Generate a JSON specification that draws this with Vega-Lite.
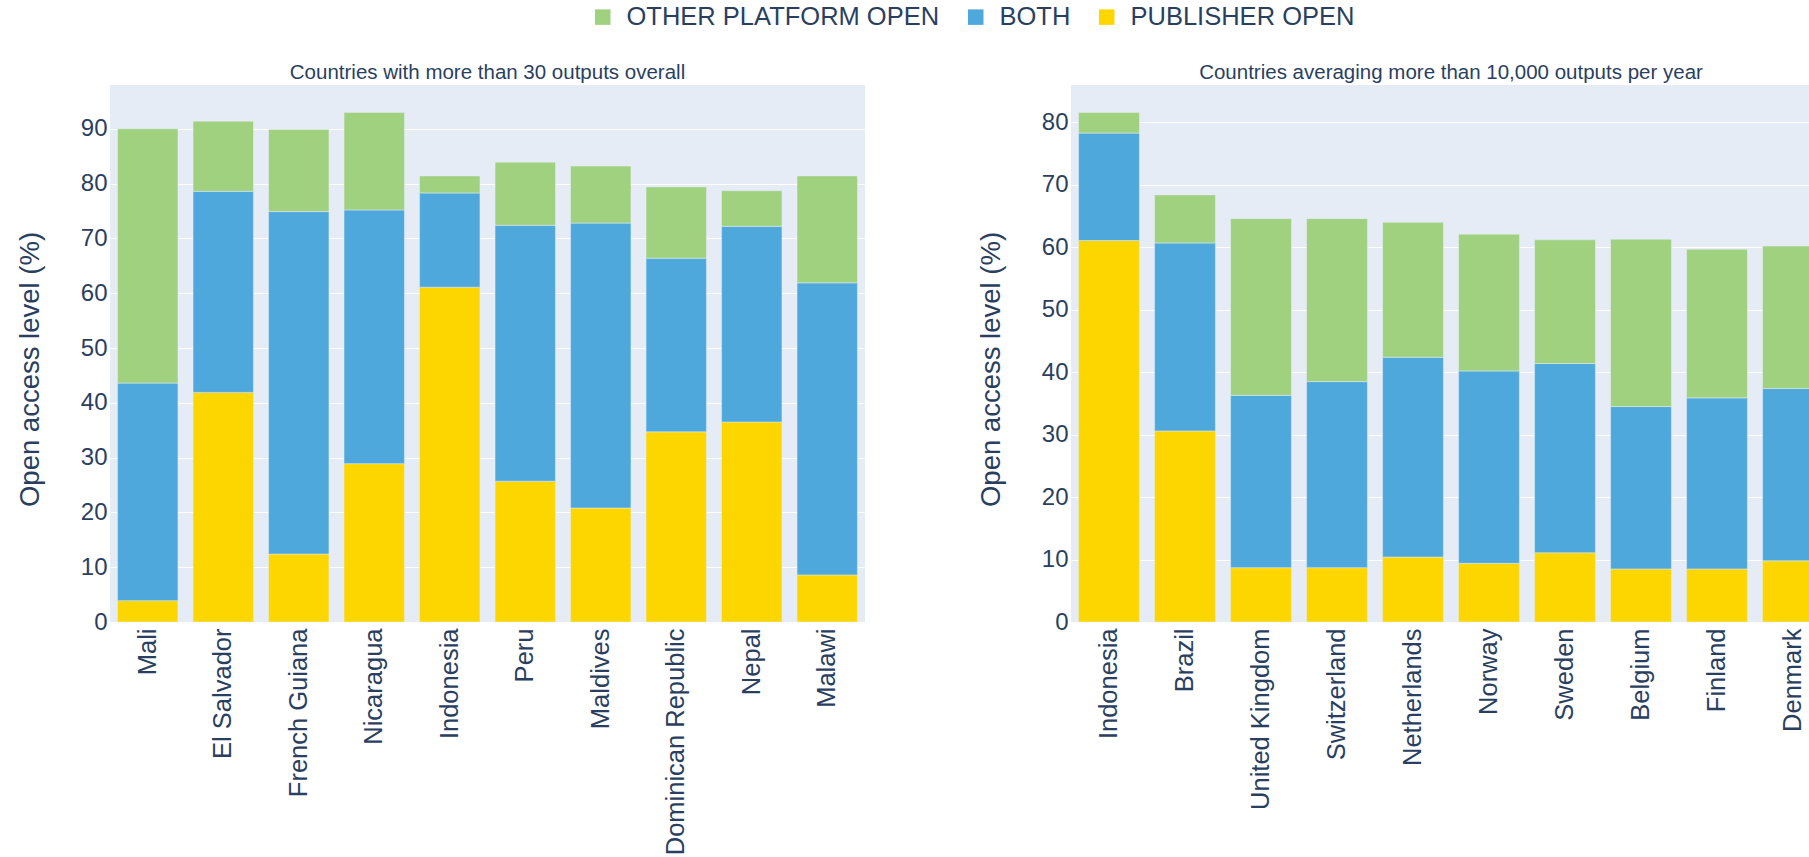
{
  "$schema": "https://vega.github.io/schema/vega-lite/v6.json",
  "background": "white",
  "padding": {"left": 16, "top": 4, "right": 0, "bottom": 0},
  "spacing": 112,
  "data": {"values": [
    {"panel": "A", "country": "Mali", "type": "PUBLISHER OPEN", "so": 1, "value": 3.9},
    {"panel": "A", "country": "Mali", "type": "BOTH", "so": 2, "value": 39.7},
    {"panel": "A", "country": "Mali", "type": "OTHER PLATFORM OPEN", "so": 3, "value": 46.4},
    {"panel": "A", "country": "El Salvador", "type": "PUBLISHER OPEN", "so": 1, "value": 41.9},
    {"panel": "A", "country": "El Salvador", "type": "BOTH", "so": 2, "value": 36.7},
    {"panel": "A", "country": "El Salvador", "type": "OTHER PLATFORM OPEN", "so": 3, "value": 12.8},
    {"panel": "A", "country": "French Guiana", "type": "PUBLISHER OPEN", "so": 1, "value": 12.4},
    {"panel": "A", "country": "French Guiana", "type": "BOTH", "so": 2, "value": 62.5},
    {"panel": "A", "country": "French Guiana", "type": "OTHER PLATFORM OPEN", "so": 3, "value": 15.0},
    {"panel": "A", "country": "Nicaragua", "type": "PUBLISHER OPEN", "so": 1, "value": 28.9},
    {"panel": "A", "country": "Nicaragua", "type": "BOTH", "so": 2, "value": 46.3},
    {"panel": "A", "country": "Nicaragua", "type": "OTHER PLATFORM OPEN", "so": 3, "value": 17.8},
    {"panel": "A", "country": "Indonesia", "type": "PUBLISHER OPEN", "so": 1, "value": 61.1},
    {"panel": "A", "country": "Indonesia", "type": "BOTH", "so": 2, "value": 17.2},
    {"panel": "A", "country": "Indonesia", "type": "OTHER PLATFORM OPEN", "so": 3, "value": 3.1},
    {"panel": "A", "country": "Peru", "type": "PUBLISHER OPEN", "so": 1, "value": 25.7},
    {"panel": "A", "country": "Peru", "type": "BOTH", "so": 2, "value": 46.7},
    {"panel": "A", "country": "Peru", "type": "OTHER PLATFORM OPEN", "so": 3, "value": 11.5},
    {"panel": "A", "country": "Maldives", "type": "PUBLISHER OPEN", "so": 1, "value": 20.8},
    {"panel": "A", "country": "Maldives", "type": "BOTH", "so": 2, "value": 52.0},
    {"panel": "A", "country": "Maldives", "type": "OTHER PLATFORM OPEN", "so": 3, "value": 10.4},
    {"panel": "A", "country": "Dominican Republic", "type": "PUBLISHER OPEN", "so": 1, "value": 34.7},
    {"panel": "A", "country": "Dominican Republic", "type": "BOTH", "so": 2, "value": 31.7},
    {"panel": "A", "country": "Dominican Republic", "type": "OTHER PLATFORM OPEN", "so": 3, "value": 13.0},
    {"panel": "A", "country": "Nepal", "type": "PUBLISHER OPEN", "so": 1, "value": 36.5},
    {"panel": "A", "country": "Nepal", "type": "BOTH", "so": 2, "value": 35.7},
    {"panel": "A", "country": "Nepal", "type": "OTHER PLATFORM OPEN", "so": 3, "value": 6.5},
    {"panel": "A", "country": "Malawi", "type": "PUBLISHER OPEN", "so": 1, "value": 8.6},
    {"panel": "A", "country": "Malawi", "type": "BOTH", "so": 2, "value": 53.3},
    {"panel": "A", "country": "Malawi", "type": "OTHER PLATFORM OPEN", "so": 3, "value": 19.5},
    {"panel": "B", "country": "Indonesia", "type": "PUBLISHER OPEN", "so": 1, "value": 61.1},
    {"panel": "B", "country": "Indonesia", "type": "BOTH", "so": 2, "value": 17.2},
    {"panel": "B", "country": "Indonesia", "type": "OTHER PLATFORM OPEN", "so": 3, "value": 3.3},
    {"panel": "B", "country": "Brazil", "type": "PUBLISHER OPEN", "so": 1, "value": 30.6},
    {"panel": "B", "country": "Brazil", "type": "BOTH", "so": 2, "value": 30.1},
    {"panel": "B", "country": "Brazil", "type": "OTHER PLATFORM OPEN", "so": 3, "value": 7.7},
    {"panel": "B", "country": "United Kingdom", "type": "PUBLISHER OPEN", "so": 1, "value": 8.7},
    {"panel": "B", "country": "United Kingdom", "type": "BOTH", "so": 2, "value": 27.6},
    {"panel": "B", "country": "United Kingdom", "type": "OTHER PLATFORM OPEN", "so": 3, "value": 28.3},
    {"panel": "B", "country": "Switzerland", "type": "PUBLISHER OPEN", "so": 1, "value": 8.7},
    {"panel": "B", "country": "Switzerland", "type": "BOTH", "so": 2, "value": 29.8},
    {"panel": "B", "country": "Switzerland", "type": "OTHER PLATFORM OPEN", "so": 3, "value": 26.1},
    {"panel": "B", "country": "Netherlands", "type": "PUBLISHER OPEN", "so": 1, "value": 10.4},
    {"panel": "B", "country": "Netherlands", "type": "BOTH", "so": 2, "value": 32.0},
    {"panel": "B", "country": "Netherlands", "type": "OTHER PLATFORM OPEN", "so": 3, "value": 21.6},
    {"panel": "B", "country": "Norway", "type": "PUBLISHER OPEN", "so": 1, "value": 9.4},
    {"panel": "B", "country": "Norway", "type": "BOTH", "so": 2, "value": 30.8},
    {"panel": "B", "country": "Norway", "type": "OTHER PLATFORM OPEN", "so": 3, "value": 21.9},
    {"panel": "B", "country": "Sweden", "type": "PUBLISHER OPEN", "so": 1, "value": 11.1},
    {"panel": "B", "country": "Sweden", "type": "BOTH", "so": 2, "value": 30.3},
    {"panel": "B", "country": "Sweden", "type": "OTHER PLATFORM OPEN", "so": 3, "value": 19.8},
    {"panel": "B", "country": "Belgium", "type": "PUBLISHER OPEN", "so": 1, "value": 8.5},
    {"panel": "B", "country": "Belgium", "type": "BOTH", "so": 2, "value": 26.0},
    {"panel": "B", "country": "Belgium", "type": "OTHER PLATFORM OPEN", "so": 3, "value": 26.8},
    {"panel": "B", "country": "Finland", "type": "PUBLISHER OPEN", "so": 1, "value": 8.5},
    {"panel": "B", "country": "Finland", "type": "BOTH", "so": 2, "value": 27.4},
    {"panel": "B", "country": "Finland", "type": "OTHER PLATFORM OPEN", "so": 3, "value": 23.8},
    {"panel": "B", "country": "Denmark", "type": "PUBLISHER OPEN", "so": 1, "value": 9.8},
    {"panel": "B", "country": "Denmark", "type": "BOTH", "so": 2, "value": 27.6},
    {"panel": "B", "country": "Denmark", "type": "OTHER PLATFORM OPEN", "so": 3, "value": 22.8}
  ]},
  "config": {
    "view": {"fill": "#E5ECF6", "stroke": null},
    "font": "Liberation Sans",
    "axis": {
      "labelFont": "Liberation Sans", "titleFont": "Liberation Sans",
      "labelColor": "#2a3f5f", "titleColor": "#2a3f5f",
      "domain": false, "ticks": false,
      "labelFontSize": 24, "titleFontSize": 27.5, "titleFontWeight": "normal",
      "gridColor": "#ffffff", "gridWidth": 1, "labelLimit": 400
    },
    "axisX": {"grid": false, "labelAngle": -90, "labelPadding": 6, "labelFontSize": 25.5},
    "axisY": {"labelPadding": 3, "titlePadding": 36, "titleY": 284},
    "title": {"fontSize": 20.5, "fontWeight": "normal", "color": "#2a3f5f", "font": "Liberation Sans", "offset": 2},
    "legend": {"labelFont": "Liberation Sans"}
  },
  "resolve": {"scale": {"color": "shared"}},
  "hconcat": [
    {
      "width": 755, "height": 537,
      "title": "Countries with more than 30 outputs overall",
      "transform": [{"filter": "datum.panel === 'A'"}],
      "mark": {"type": "bar", "stroke": "#E5ECF6", "strokeWidth": 0.5},
      "encoding": {
        "x": {"field": "country", "type": "nominal", "sort": null, "scale": {"paddingInner": 0.2, "paddingOuter": 0.1}, "axis": {"title": null}},
        "y": {"field": "value", "type": "quantitative", "stack": "zero", "scale": {"domain": [0, 98], "nice": false}, "axis": {"title": "Open access level (%)", "values": [0, 10, 20, 30, 40, 50, 60, 70, 80, 90]}},
        "color": {"field": "type", "type": "nominal",
          "scale": {"domain": ["OTHER PLATFORM OPEN", "BOTH", "PUBLISHER OPEN"], "range": ["#9fd17f", "#4fa8db", "#fdd600"]},
          "legend": {"title": null, "orient": "none", "legendX": 480, "legendY": -81, "direction": "horizontal", "symbolType": "square", "symbolSize": 240, "symbolStrokeWidth": 0, "labelFontSize": 25.5, "labelColor": "#2a3f5f", "labelOffset": 11, "columnPadding": 23, "labelLimit": 0}},
        "order": {"field": "so", "type": "quantitative"}
      }
    },
    {
      "width": 760, "height": 537,
      "title": "Countries averaging more than 10,000 outputs per year",
      "transform": [{"filter": "datum.panel === 'B'"}],
      "mark": {"type": "bar", "stroke": "#E5ECF6", "strokeWidth": 0.5},
      "encoding": {
        "x": {"field": "country", "type": "nominal", "sort": null, "scale": {"paddingInner": 0.2, "paddingOuter": 0.1}, "axis": {"title": null}},
        "y": {"field": "value", "type": "quantitative", "stack": "zero", "scale": {"domain": [0, 86], "nice": false}, "axis": {"title": "Open access level (%)", "values": [0, 10, 20, 30, 40, 50, 60, 70, 80]}},
        "color": {"field": "type", "type": "nominal"},
        "order": {"field": "so", "type": "quantitative"}
      }
    }
  ]
}
